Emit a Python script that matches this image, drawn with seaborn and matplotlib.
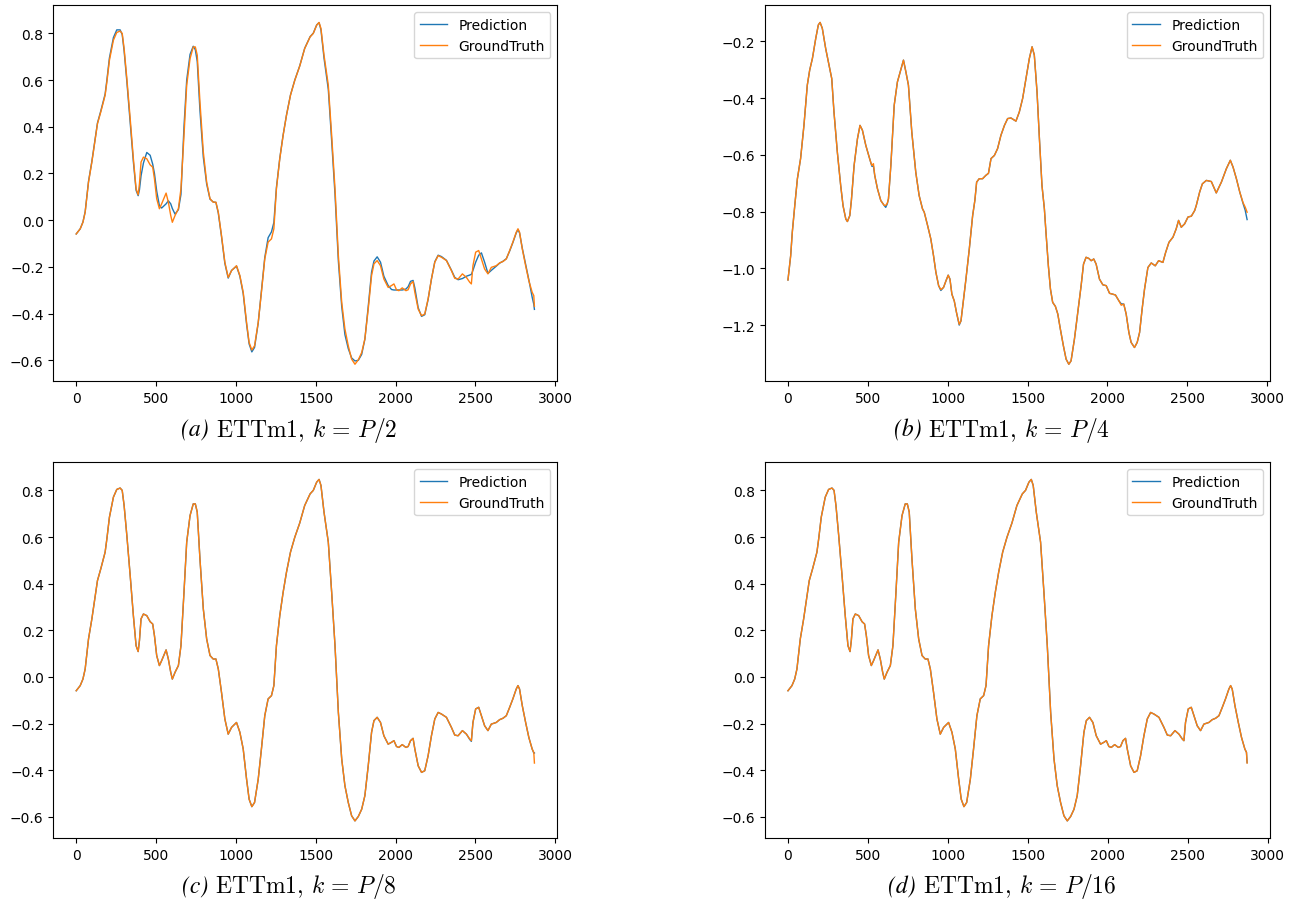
import matplotlib
matplotlib.use("Agg")
import matplotlib.pyplot as plt
from matplotlib.offsetbox import TextArea, HPacker, AnnotationBbox
import seaborn as sns
import pandas as pd

# ---- ETTm1 channel shared by panels (a), (c), (d) ----
x_main = [0, 25, 42, 56, 77, 98, 119, 133, 154, 181, 192, 208, 233, 254, 275, 288, 300, 317, 338, 358,
          375, 388, 396, 406, 421, 442, 463, 479, 490, 504, 521, 535, 563, 577, 592, 602, 619, 640, 656, 675,
          692, 713, 733, 746, 758, 775, 796, 817, 838, 858, 875, 890, 910, 931, 952, 973, 1004, 1025, 1046, 1067,
          1083, 1100, 1117, 1140, 1160, 1181, 1202, 1223, 1238, 1254, 1275, 1296, 1317, 1342, 1369, 1400, 1431, 1465, 1485, 1506,
          1521, 1533, 1552, 1579, 1600, 1621, 1642, 1663, 1683, 1704, 1725, 1746, 1767, 1788, 1808, 1829, 1850, 1865, 1885, 1906,
          1927, 1954, 1975, 1990, 2006, 2021, 2042, 2065, 2079, 2094, 2110, 2121, 2142, 2163, 2183, 2204, 2225, 2246, 2267, 2288,
          2319, 2350, 2371, 2392, 2419, 2444, 2465, 2475, 2485, 2502, 2521, 2538, 2558, 2579, 2600, 2631, 2652, 2673, 2694, 2715,
          2735, 2756, 2767, 2777, 2794, 2815, 2835, 2856, 2866, 2870]

truth_main = [-0.059, -0.037, -0.009, 0.034, 0.163, 0.249, 0.349, 0.413, 0.464, 0.535, 0.592, 0.685, 0.771, 0.804, 0.810, 0.800, 0.735, 0.607, 0.435, 0.263,
              0.134, 0.109, 0.156, 0.249, 0.270, 0.263, 0.237, 0.227, 0.177, 0.092, 0.049, 0.070, 0.116, 0.077, 0.020, -0.009, 0.020, 0.049, 0.134, 0.363,
              0.578, 0.692, 0.742, 0.742, 0.707, 0.506, 0.292, 0.163, 0.092, 0.077, 0.077, 0.034, -0.066, -0.180, -0.245, -0.216, -0.195, -0.237, -0.309, -0.438,
              -0.524, -0.556, -0.538, -0.438, -0.309, -0.166, -0.094, -0.080, -0.037, 0.134, 0.263, 0.363, 0.449, 0.535, 0.599, 0.660, 0.735, 0.785, 0.800, 0.835,
              0.847, 0.821, 0.707, 0.578, 0.363, 0.134, -0.152, -0.352, -0.466, -0.538, -0.595, -0.617, -0.598, -0.567, -0.509, -0.381, -0.237, -0.187, -0.173, -0.195,
              -0.252, -0.288, -0.280, -0.273, -0.298, -0.302, -0.290, -0.302, -0.298, -0.273, -0.263, -0.309, -0.381, -0.409, -0.402, -0.338, -0.252, -0.180, -0.152, -0.159,
              -0.173, -0.216, -0.249, -0.252, -0.230, -0.245, -0.266, -0.273, -0.195, -0.137, -0.130, -0.166, -0.209, -0.230, -0.202, -0.195, -0.183, -0.177, -0.166, -0.130,
              -0.094, -0.052, -0.037, -0.052, -0.123, -0.195, -0.259, -0.309, -0.323, -0.369]

pred_half = [-0.059, -0.037, -0.008, 0.036, 0.166, 0.252, 0.352, 0.416, 0.468, 0.540, 0.600, 0.695, 0.782, 0.815, 0.815, 0.795, 0.725, 0.595, 0.420, 0.250,
             0.128, 0.105, 0.130, 0.190, 0.245, 0.290, 0.278, 0.240, 0.200, 0.125, 0.062, 0.052, 0.070, 0.083, 0.070, 0.050, 0.026, 0.045, 0.110, 0.400,
             0.600, 0.710, 0.745, 0.730, 0.680, 0.470, 0.270, 0.155, 0.090, 0.078, 0.076, 0.030, -0.070, -0.185, -0.248, -0.215, -0.197, -0.240, -0.315, -0.445,
             -0.530, -0.564, -0.545, -0.440, -0.305, -0.160, -0.075, -0.050, -0.010, 0.140, 0.265, 0.365, 0.450, 0.536, 0.600, 0.661, 0.736, 0.786, 0.801, 0.836,
             0.846, 0.815, 0.695, 0.560, 0.340, 0.110, -0.175, -0.370, -0.490, -0.550, -0.590, -0.603, -0.600, -0.575, -0.510, -0.370, -0.222, -0.175, -0.157, -0.180,
             -0.240, -0.280, -0.297, -0.299, -0.299, -0.299, -0.299, -0.295, -0.285, -0.262, -0.258, -0.290, -0.375, -0.412, -0.405, -0.340, -0.252, -0.178, -0.150, -0.156,
             -0.172, -0.214, -0.245, -0.255, -0.250, -0.240, -0.235, -0.232, -0.215, -0.180, -0.150, -0.140, -0.180, -0.228, -0.215, -0.197, -0.184, -0.176, -0.165, -0.132,
             -0.096, -0.055, -0.040, -0.055, -0.120, -0.190, -0.255, -0.330, -0.360, -0.382]

pred_eighth = [-0.059, -0.037, -0.009, 0.034, 0.163, 0.249, 0.349, 0.413, 0.464, 0.535, 0.592, 0.685, 0.771, 0.804, 0.810, 0.800, 0.735, 0.607, 0.435, 0.263,
               0.134, 0.109, 0.156, 0.249, 0.270, 0.263, 0.237, 0.227, 0.177, 0.092, 0.049, 0.070, 0.116, 0.077, 0.020, -0.009, 0.020, 0.049, 0.134, 0.363,
               0.578, 0.692, 0.742, 0.742, 0.707, 0.506, 0.292, 0.163, 0.092, 0.077, 0.077, 0.034, -0.066, -0.180, -0.245, -0.216, -0.195, -0.237, -0.309, -0.438,
               -0.524, -0.556, -0.538, -0.438, -0.309, -0.166, -0.094, -0.080, -0.037, 0.134, 0.263, 0.363, 0.449, 0.535, 0.599, 0.660, 0.735, 0.785, 0.800, 0.835,
               0.847, 0.821, 0.707, 0.578, 0.363, 0.134, -0.152, -0.352, -0.466, -0.538, -0.595, -0.617, -0.598, -0.567, -0.509, -0.381, -0.237, -0.187, -0.173, -0.195,
               -0.252, -0.288, -0.280, -0.273, -0.298, -0.302, -0.290, -0.302, -0.298, -0.273, -0.263, -0.309, -0.381, -0.409, -0.402, -0.338, -0.252, -0.180, -0.152, -0.159,
               -0.173, -0.216, -0.249, -0.252, -0.230, -0.245, -0.268, -0.276, -0.195, -0.137, -0.130, -0.166, -0.209, -0.230, -0.202, -0.195, -0.183, -0.177, -0.166, -0.130,
               -0.094, -0.052, -0.037, -0.052, -0.123, -0.195, -0.259, -0.309, -0.326, -0.326]

pred_sixteenth = [-0.059, -0.037, -0.009, 0.034, 0.163, 0.249, 0.349, 0.413, 0.464, 0.535, 0.592, 0.685, 0.771, 0.804, 0.810, 0.800, 0.735, 0.607, 0.435, 0.263,
                  0.134, 0.109, 0.156, 0.249, 0.270, 0.263, 0.237, 0.227, 0.177, 0.092, 0.049, 0.070, 0.116, 0.077, 0.020, -0.009, 0.020, 0.049, 0.134, 0.363,
                  0.578, 0.692, 0.742, 0.742, 0.707, 0.506, 0.292, 0.163, 0.092, 0.077, 0.077, 0.034, -0.066, -0.180, -0.245, -0.216, -0.195, -0.237, -0.309, -0.438,
                  -0.524, -0.556, -0.538, -0.438, -0.309, -0.166, -0.094, -0.080, -0.037, 0.134, 0.263, 0.363, 0.449, 0.535, 0.599, 0.660, 0.735, 0.785, 0.800, 0.835,
                  0.847, 0.821, 0.707, 0.578, 0.363, 0.134, -0.152, -0.352, -0.466, -0.538, -0.595, -0.617, -0.598, -0.567, -0.509, -0.381, -0.237, -0.187, -0.173, -0.195,
                  -0.252, -0.288, -0.280, -0.273, -0.298, -0.302, -0.290, -0.302, -0.298, -0.273, -0.263, -0.309, -0.381, -0.409, -0.402, -0.338, -0.252, -0.180, -0.152, -0.159,
                  -0.173, -0.216, -0.249, -0.252, -0.230, -0.245, -0.266, -0.273, -0.195, -0.137, -0.130, -0.166, -0.209, -0.230, -0.202, -0.195, -0.183, -0.177, -0.166, -0.130,
                  -0.094, -0.052, -0.037, -0.052, -0.123, -0.195, -0.259, -0.309, -0.323, -0.367]

# ---- ETTm1 channel for panel (b) ----
x_quarter = [0, 17, 27, 44, 59, 79, 100, 121, 136, 153, 174, 190, 201, 215, 236, 257, 274, 288, 309, 330,
             345, 362, 372, 387, 397, 414, 435, 451, 466, 487, 514, 525, 535, 543, 560, 581, 602, 612, 622, 629,
             644, 665, 685, 706, 723, 738, 754, 775, 800, 821, 842, 853, 874, 894, 911, 926, 943, 957, 974, 989,
             1003, 1014, 1026, 1041, 1055, 1072, 1083, 1097, 1114, 1135, 1156, 1170, 1181, 1197, 1218, 1239, 1255, 1271, 1292, 1312,
             1333, 1355, 1375, 1396, 1427, 1448, 1469, 1490, 1511, 1528, 1542, 1559, 1574, 1590, 1605, 1615, 1630, 1643, 1657, 1674,
             1689, 1705, 1724, 1741, 1758, 1772, 1793, 1814, 1835, 1850, 1866, 1883, 1898, 1914, 1929, 1950, 1971, 1992, 2013, 2033,
             2050, 2071, 2086, 2102, 2117, 2134, 2148, 2169, 2186, 2201, 2217, 2232, 2253, 2274, 2299, 2320, 2347, 2364, 2385, 2410,
             2430, 2445, 2462, 2483, 2504, 2525, 2546, 2556, 2577, 2594, 2619, 2650, 2681, 2713, 2744, 2769, 2786, 2807, 2828, 2849,
             2862, 2874]

truth_quarter = [-1.041, -0.955, -0.873, -0.770, -0.684, -0.613, -0.496, -0.354, -0.301, -0.260, -0.189, -0.142, -0.133, -0.154, -0.225, -0.284, -0.331, -0.449, -0.590, -0.708,
                 -0.780, -0.826, -0.835, -0.814, -0.760, -0.637, -0.543, -0.496, -0.513, -0.566, -0.619, -0.637, -0.631, -0.672, -0.719, -0.761, -0.778, -0.778, -0.770, -0.755,
                 -0.637, -0.425, -0.343, -0.301, -0.266, -0.307, -0.354, -0.519, -0.661, -0.743, -0.790, -0.802, -0.849, -0.896, -0.955, -1.014, -1.061, -1.075, -1.067, -1.044,
                 -1.024, -1.038, -1.091, -1.115, -1.156, -1.197, -1.185, -1.120, -1.038, -0.932, -0.814, -0.760, -0.696, -0.684, -0.684, -0.672, -0.665, -0.613, -0.602, -0.578,
                 -0.531, -0.496, -0.472, -0.470, -0.481, -0.449, -0.401, -0.331, -0.260, -0.219, -0.248, -0.378, -0.543, -0.708, -0.790, -0.873, -0.991, -1.073, -1.120, -1.134,
                 -1.161, -1.214, -1.273, -1.320, -1.338, -1.326, -1.250, -1.155, -1.061, -0.985, -0.961, -0.965, -0.973, -0.967, -0.985, -1.038, -1.058, -1.061, -1.088, -1.091,
                 -1.094, -1.114, -1.130, -1.126, -1.161, -1.226, -1.261, -1.279, -1.261, -1.226, -1.143, -1.073, -0.997, -0.981, -0.991, -0.973, -0.979, -0.944, -0.908, -0.890,
                 -0.861, -0.831, -0.855, -0.843, -0.819, -0.816, -0.796, -0.778, -0.731, -0.702, -0.690, -0.694, -0.734, -0.696, -0.649, -0.619, -0.643, -0.684, -0.731, -0.769,
                 -0.784, -0.802]

pred_quarter = [-1.041, -0.955, -0.873, -0.770, -0.684, -0.613, -0.496, -0.354, -0.301, -0.260, -0.189, -0.142, -0.133, -0.154, -0.225, -0.284, -0.331, -0.449, -0.590, -0.708,
                -0.780, -0.826, -0.835, -0.814, -0.760, -0.637, -0.543, -0.496, -0.513, -0.566, -0.619, -0.640, -0.640, -0.672, -0.719, -0.761, -0.778, -0.785, -0.772, -0.755,
                -0.637, -0.425, -0.343, -0.301, -0.266, -0.307, -0.354, -0.519, -0.661, -0.743, -0.790, -0.802, -0.849, -0.896, -0.955, -1.014, -1.061, -1.078, -1.067, -1.044,
                -1.024, -1.038, -1.091, -1.115, -1.156, -1.200, -1.185, -1.120, -1.038, -0.932, -0.814, -0.760, -0.696, -0.684, -0.684, -0.672, -0.665, -0.613, -0.602, -0.578,
                -0.531, -0.496, -0.472, -0.470, -0.481, -0.449, -0.401, -0.331, -0.260, -0.219, -0.248, -0.378, -0.543, -0.708, -0.790, -0.873, -0.991, -1.073, -1.120, -1.134,
                -1.161, -1.214, -1.273, -1.320, -1.338, -1.326, -1.250, -1.155, -1.061, -0.985, -0.961, -0.965, -0.973, -0.967, -0.985, -1.038, -1.058, -1.061, -1.088, -1.091,
                -1.094, -1.114, -1.125, -1.126, -1.161, -1.226, -1.261, -1.279, -1.261, -1.226, -1.143, -1.073, -0.997, -0.981, -0.991, -0.973, -0.979, -0.944, -0.908, -0.890,
                -0.861, -0.831, -0.855, -0.843, -0.819, -0.816, -0.796, -0.778, -0.731, -0.702, -0.690, -0.694, -0.734, -0.696, -0.649, -0.619, -0.643, -0.684, -0.731, -0.772,
                -0.795, -0.828]

panel_tags = ["(a)", "(b)", "(c)", "(d)"]
panel_texts = [r"ETTm1, $k\, =\, P/2$",
               r"ETTm1, $k\, =\, P/4$",
               r"ETTm1, $k\, =\, P/8$",
               r"ETTm1, $k\, =\, P/16$"]

plt.rcParams["mathtext.fontset"] = "cm"

fig = plt.figure(figsize=(12.94, 9.03), dpi=100)

panels = [
    ([0.0412, 0.5766, 0.3895, 0.4164], x_main, pred_half, truth_main, (0.2233, 0.5238)),
    ([0.5912, 0.5766, 0.3903, 0.4164], x_quarter, pred_quarter, truth_quarter, (0.7743, 0.5238)),
    ([0.0412, 0.0709, 0.3895, 0.4160], x_main, pred_eighth, truth_main, (0.2233, 0.0180)),
    ([0.5912, 0.0709, 0.3903, 0.4160], x_main, pred_sixteenth, truth_main, (0.7743, 0.0180)),
]

for (rect, xs, pred, truth, cap_pos), tag, text in zip(panels, panel_tags, panel_texts):
    ax = fig.add_axes(rect)
    frame = pd.DataFrame({"t": xs, "Prediction": pred, "GroundTruth": truth})
    sns.lineplot(data=frame, x="t", y="Prediction", ax=ax, color="#1f77b4",
                 linewidth=1.0, label="Prediction", estimator=None, sort=False)
    sns.lineplot(data=frame, x="t", y="GroundTruth", ax=ax, color="#ff7f0e",
                 linewidth=1.0, label="GroundTruth", estimator=None, sort=False)
    ax.set_xlabel("")
    ax.set_ylabel("")
    ax.set_xticks([0, 500, 1000, 1500, 2000, 2500, 3000])
    ax.legend(loc="upper right", fontsize=10)

    # sub-figure caption: italic tag followed by the roman description
    tag_box = TextArea(tag, textprops=dict(fontsize=17, family="STIXGeneral",
                                           style="italic"))
    text_box = TextArea(text, textprops=dict(fontsize=17, family="cmr10",
                                             math_fontfamily="cm"))
    packed = HPacker(children=[tag_box, text_box], align="baseline", pad=0, sep=5)
    cap = AnnotationBbox(packed, cap_pos, xycoords="figure fraction",
                         box_alignment=(0.5, 0.5), frameon=False, pad=0)
    fig.add_artist(cap)

fig.savefig("out.png", dpi=100)
